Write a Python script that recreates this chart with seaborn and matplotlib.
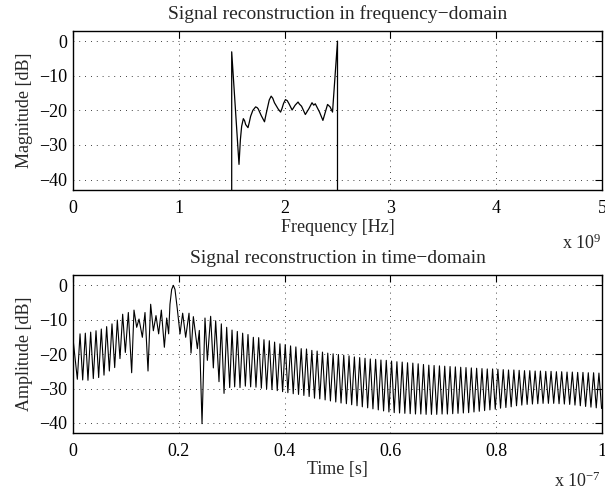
import numpy as np
import pandas as pd
import matplotlib
matplotlib.use("Agg")
import matplotlib.pyplot as plt
import seaborn as sns

# ---------------- data ----------------
# Frequency-domain magnitude (x in units of 1e9 Hz)
freq_ghz = [1.500, 1.500, 1.569, 1.582, 1.594, 1.610, 1.622, 1.632, 1.654, 1.666, 1.679,
            1.700, 1.726, 1.740, 1.751, 1.779, 1.810, 1.822, 1.835, 1.855, 1.873,
            1.888, 1.904, 1.939, 1.962, 1.975, 1.990, 2.008, 2.025, 2.040, 2.071,
            2.100, 2.127, 2.140, 2.160, 2.196, 2.230, 2.259, 2.275, 2.290, 2.330,
            2.362, 2.385, 2.406, 2.430, 2.453, 2.500, 2.500]
freq_db = [-100, -3.1, -35.6, -28.5, -24.6, -22.4, -23.0, -24.1, -25.0, -23.5, -21.7,
           -20.0, -19.0, -19.2, -19.6, -21.5, -23.3, -21.5, -19.7, -17.0, -15.9,
           -16.5, -17.8, -19.6, -20.5, -19.5, -18.0, -16.9, -17.2, -18.0, -19.9,
           -18.5, -17.6, -18.2, -18.8, -21.2, -19.5, -17.8, -18.5, -18.1, -20.5,
           -22.9, -20.5, -18.3, -19.0, -20.5, 0.0, -100]

# Time-domain amplitude, irregular part (x in units of 1e-7 s)
irr_t = [0.0000, 0.0082, 0.0133, 0.0183, 0.0233, 0.0283, 0.0334, 0.0384, 0.0435, 0.0485,
         0.0535, 0.0586, 0.0636, 0.0687, 0.0737, 0.0788, 0.0838, 0.0888, 0.0939, 0.0989,
         0.1046, 0.1109, 0.1153, 0.1204, 0.1248, 0.1311, 0.1361, 0.1418, 0.1468, 0.1519,
         0.1569, 0.1619, 0.1670, 0.1727, 0.1771, 0.1808, 0.1833, 0.1865, 0.1897, 0.1928,
         0.1972, 0.2023, 0.2073, 0.2130, 0.2193, 0.2231, 0.2275, 0.2351, 0.2388, 0.2439,
         0.2495, 0.2540, 0.2602, 0.2653, 0.2697, 0.2760, 0.2804, 0.2855, 0.2905, 0.2962,
         0.3006, 0.3056, 0.3106, 0.3157, 0.3207, 0.3258, 0.3308, 0.3358]
irr_db = [-15.5, -27.3, -14.1, -27.5, -13.9, -27.6, -13.6, -27.1, -13.2, -26.8,
          -12.7, -26.1, -12.0, -24.9, -11.2, -23.9, -10.1, -21.3, -8.4, -19.5,
          -7.9, -25.4, -7.2, -12.2, -9.8, -15.1, -7.9, -24.9, -5.5, -13.2,
          -8.8, -14.1, -7.2, -18.0, -9.5, -14.1, -5.5, -1.2, 0.0, -1.2,
          -6.9, -14.1, -8.1, -15.1, -8.1, -19.7, -9.1, -18.4, -13.1, -40.2,
          -9.5, -21.8, -9.0, -24.0, -10.3, -28.0, -11.2, -31.4, -12.2, -29.7,
          -13.0, -29.5, -13.4, -29.7, -13.9, -29.3, -14.3, -29.5]

# Regular ripple part: peaks and troughs of each cycle
peak_t = [0.3409, 0.3510, 0.3610, 0.3711, 0.3811, 0.3912, 0.4012, 0.4113, 0.4213, 0.4314,
          0.4414, 0.4515, 0.4615, 0.4716, 0.4816, 0.4917, 0.5017, 0.5118, 0.5218, 0.5319,
          0.5419, 0.5520, 0.5620, 0.5721, 0.5821, 0.5922, 0.6022, 0.6123, 0.6223, 0.6324,
          0.6424, 0.6525, 0.6625, 0.6726, 0.6826, 0.6927, 0.7027, 0.7128, 0.7228, 0.7329,
          0.7429, 0.7530, 0.7630, 0.7731, 0.7831, 0.7932, 0.8032, 0.8133, 0.8233, 0.8334,
          0.8434, 0.8535, 0.8635, 0.8736, 0.8836, 0.8937, 0.9037, 0.9138, 0.9238, 0.9339,
          0.9439, 0.9540, 0.9640, 0.9741, 0.9841, 0.9942]
peak_db = [-15.1, -15.2, -15.8, -16.1, -16.5, -17.0, -17.2, -17.6, -17.9, -18.4,
           -18.5, -18.9, -19.1, -19.4, -19.7, -19.9, -20.1, -20.3, -20.5, -20.8,
           -21.0, -21.2, -21.4, -21.5, -21.7, -21.8, -22.0, -22.2, -22.3, -22.5,
           -22.6, -22.8, -23.0, -23.2, -23.3, -23.4, -23.5, -23.6, -23.7, -23.8,
           -23.9, -24.0, -24.1, -24.2, -24.3, -24.3, -24.4, -24.5, -24.6, -24.6,
           -24.7, -24.8, -24.8, -24.9, -24.9, -25.0, -25.0, -25.1, -25.1, -25.2,
           -25.2, -25.3, -25.3, -25.4, -25.4, -25.5]
trough_t = [0.3459, 0.3560, 0.3660, 0.3761, 0.3861, 0.3962, 0.4062, 0.4163, 0.4263, 0.4364,
            0.4464, 0.4565, 0.4665, 0.4766, 0.4866, 0.4967, 0.5067, 0.5168, 0.5268, 0.5369,
            0.5469, 0.5570, 0.5670, 0.5771, 0.5871, 0.5972, 0.6072, 0.6173, 0.6273, 0.6374,
            0.6474, 0.6575, 0.6675, 0.6776, 0.6876, 0.6977, 0.7077, 0.7178, 0.7278, 0.7379,
            0.7479, 0.7580, 0.7680, 0.7781, 0.7881, 0.7982, 0.8082, 0.8183, 0.8283, 0.8384,
            0.8484, 0.8585, 0.8685, 0.8786, 0.8886, 0.8987, 0.9087, 0.9188, 0.9288, 0.9389,
            0.9489, 0.9590, 0.9690, 0.9791, 0.9891, 0.9992]
trough_db = [-29.6, -29.9, -30.1, -30.3, -30.6, -30.9, -31.2, -31.5, -31.7, -32.0,
             -32.3, -32.8, -33.0, -33.3, -33.6, -33.9, -34.2, -34.4, -34.7, -35.0,
             -35.3, -35.6, -35.9, -36.2, -36.5, -36.8, -37.0, -37.1, -37.2, -37.3,
             -37.4, -37.4, -37.5, -37.5, -37.5, -37.4, -37.4, -37.3, -37.2, -37.1,
             -37.0, -36.8, -36.6, -36.4, -36.2, -36.0, -35.7, -35.5, -35.3, -35.0,
             -34.8, -34.6, -34.5, -34.4, -34.3, -34.3, -34.3, -34.4, -34.5, -34.6,
             -34.8, -35.0, -35.2, -35.4, -35.6, -35.8]

y_ticks = [0, -10, -20, -30, -40]
freq_ticks = [0, 1, 2, 3, 4, 5]
time_ticks = [0, 0.2, 0.4, 0.6, 0.8, 1.0]
time_tick_labels = ["0", "0.2", "0.4", "0.6", "0.8", "1"]

# ---------------- assemble tables ----------------
df_f = pd.DataFrame({"f": freq_ghz, "db": freq_db})
reg_t, reg_db = [], []
for a, b, c, d in zip(peak_t, peak_db, trough_t, trough_db):
    reg_t += [a, c]
    reg_db += [b, d]
df_t = pd.DataFrame({"t": irr_t + reg_t, "db": irr_db + reg_db})

# ---------------- style ----------------
sns.set_theme(style="white")
plt.rcParams["font.family"] = ["Liberation Serif", "DejaVu Serif"]
plt.rcParams["mathtext.fontset"] = "custom"
plt.rcParams["mathtext.rm"] = "Liberation Serif"
plt.rcParams["mathtext.it"] = "Liberation Serif:italic"
plt.rcParams["axes.unicode_minus"] = True

FS = 13
W, H = 605, 491
fig = plt.figure(figsize=(W / 100, H / 100), dpi=100)
fig.patch.set_facecolor("white")

def px_axes(left, top, right, bottom):
    return fig.add_axes([left / W, 1 - bottom / H, (right - left) / W, (bottom - top) / H])

ax1 = px_axes(73, 30.7, 602, 190)
ax2 = px_axes(73, 275, 602, 433.3)

sns.lineplot(data=df_f, x="f", y="db", sort=False, estimator=None,
             color="black", lw=0.9, ax=ax1)
sns.lineplot(data=df_t, x="t", y="db", sort=False, estimator=None,
             color="black", lw=0.8, ax=ax2)

def style(ax, xticks, xlabels, xlabel, ylabel, title, xlim, xlab_y):
    ax.set_xlim(*xlim)
    ax.set_ylim(-43, 3)
    ax.set_xticks(xticks)
    ax.set_xticklabels(xlabels)
    ax.set_yticks(y_ticks)
    ax.set_yticklabels([str(v).replace("-", "\u2212") for v in y_ticks])
    ax.grid(True, color="black", lw=0.6, linestyle=(0, (1, 6)))
    ax.tick_params(direction="in", length=5, width=0.8, top=True, right=True,
                   labelsize=FS, colors="black", pad=7)
    ax.tick_params(axis="y", pad=4)
    for s in ax.spines.values():
        s.set_visible(True)
        s.set_color("black")
        s.set_linewidth(1.0)
    ax.set_xlabel(xlabel, fontsize=FS)
    ax.set_ylabel(ylabel, fontsize=FS)
    ax.xaxis.set_label_coords(0.5, xlab_y)
    ax.yaxis.set_label_coords(-0.076, 0.5)
    ax.set_title(title, fontsize=14, pad=8.5)
    ax.set_facecolor("white")

style(ax1, freq_ticks, [str(v) for v in freq_ticks], "Frequency [Hz]",
      "Magnitude [dB]", "Signal reconstruction in frequency\u2212domain", (0, 5), -0.185)
style(ax2, time_ticks, time_tick_labels, "Time [s]",
      "Amplitude [dB]", "Signal reconstruction in time\u2212domain", (0, 1), -0.172)

fig.text(601 / W, 1 - 249 / H, r"x 10$^{9}$", ha="right", va="baseline", fontsize=FS)
fig.text(601 / W, 1 - 487 / H, r"x 10$^{-7}$", ha="right", va="baseline", fontsize=FS)

fig.savefig("out.png", dpi=100, facecolor="white")
